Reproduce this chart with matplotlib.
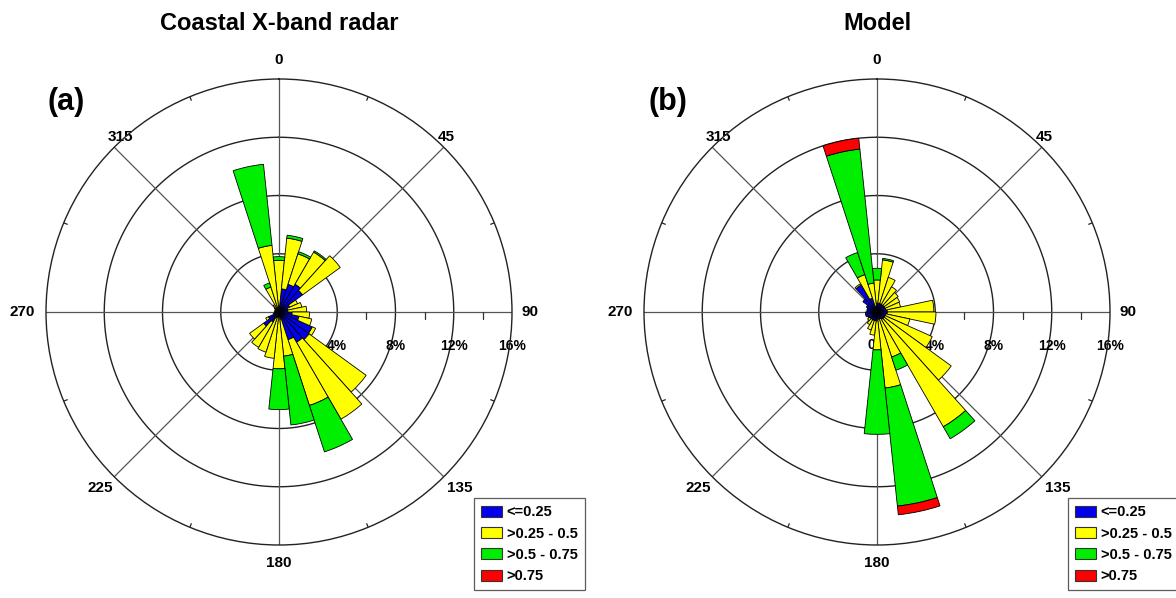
import numpy as np
import matplotlib
matplotlib.use("Agg")
import matplotlib.pyplot as plt
from matplotlib.patches import Patch

plt.rcParams["font.family"] = ["Liberation Sans", "DejaVu Sans"]
plt.rcParams["font.weight"] = "bold"

# Direction bins (degrees, clockwise from north), 12-degree sectors
directions = np.arange(0, 360, 12)

class_labels = ["<=0.25", ">0.25 - 0.5", ">0.5 - 0.75", ">0.75"]
class_colors = ["#0000ee", "#ffff00", "#00ee00", "#ff0000"]

# Coastal X-band radar: frequency (%) of each class per direction bin
radar_c1 = [0.4, 1.6, 2.0, 2.2, 2.0, 0.8, 0.6, 0.6, 0.9, 1.4, 2.5, 2.55, 2.4, 2.0, 0.5,
            0.3, 0.3, 0.4, 0.8, 1.3, 0.8, 0.3, 0.2, 0.2, 0.2, 0.2, 0.2, 0.2, 0.3, 0.3]
radar_c2 = [3.15, 3.5, 2.2, 2.55, 3.2, 0.6, 1.0, 1.3, 1.2, 0.9, 0.25, 4.85, 6.1, 4.75, 2.55,
            3.6, 2.9, 2.5, 2.0, 1.2, 0.2, 0.1, 0.1, 0.1, 0.1, 0.1, 0.2, 0.4, 1.5, 4.3]
radar_c3 = [0.25, 0.2, 0.15, 0.1, 0, 0, 0, 0, 0, 0, 0, 0, 0, 3.35, 4.75,
            2.8, 0, 0, 0, 0, 0, 0, 0, 0, 0, 0, 0, 0, 0.3, 5.6]
radar_c4 = [0] * 30

# Model: frequency (%) of each class per direction bin
model_c1 = [0.6, 0.6, 0.6, 0.6, 0.6, 0.6, 0.6, 0.7, 0.7, 0.6, 0.6, 0.6, 0.6, 0.5, 0.5,
            0.6, 0.6, 0.6, 0.6, 0.6, 0.7, 0.8, 0.8, 0.7, 0.7, 0.8, 1.2, 2.15, 1.0, 0.4]
model_c2 = [1.6, 3.0, 1.9, 1.4, 1.2, 1.1, 1.05, 3.2, 3.35, 1.7, 3.55, 5.7, 8.5, 2.75, 4.75,
            2.0, 1.0, 0.7, 0.4, 0.2, 0, 0, 0, 0, 0, 0, 0, 0.1, 1.7, 1.6]
model_c3 = [0.8, 0.1, 0, 0, 0, 0, 0, 0, 0, 0, 0, 0, 0.95, 0.95, 8.15,
            5.8, 0, 0, 0, 0, 0, 0, 0, 0, 0, 0, 0, 0, 1.6, 9.25]
model_c4 = [0, 0, 0, 0, 0, 0, 0, 0, 0, 0, 0, 0, 0, 0, 0.6,
            0, 0, 0, 0, 0, 0, 0, 0, 0, 0, 0, 0, 0, 0, 0.75]

ring_values = [4, 8, 12, 16]
ring_labels = ["4%", "8%", "12%", "16%"]
angle_ticks = [0, 45, 90, 135, 180, 225, 270, 315]
# pixel offsets of the compass labels from the outer ring
angle_offsets = {0: (0, 19), 45: (2, 10), 90: (18, 0), 135: (16, -11),
                 180: (0, -18), 225: (-14, -11), 270: (-24, 0), 315: (6, 10)}

W, H = 1176, 598
fig = plt.figure(figsize=(W / 100, H / 100), dpi=100)
fig.patch.set_facecolor("white")

R_PX = 233  # outer ring radius in pixels
CY = 312


def make_axes(cx):
    return fig.add_axes([(cx - R_PX) / W, (H - CY - R_PX) / H, 2 * R_PX / W, 2 * R_PX / H],
                        projection="polar")


def rose(ax, layers, zero_label):
    theta = np.deg2rad(directions)
    width = np.deg2rad(12)
    ax.set_theta_zero_location("N")
    ax.set_theta_direction(-1)
    ax.set_ylim(0, 16)
    ax.grid(False)
    ax.set_xticks([])
    ax.set_yticks([])
    ax.spines["polar"].set_color("#222222")
    ax.spines["polar"].set_linewidth(1.0)

    t = np.linspace(0, 2 * np.pi, 400)
    for r in ring_values[:-1]:
        ax.plot(t, np.full_like(t, r), color="#222222", lw=1.0, zorder=0.5)
    for a in angle_ticks:
        ax.plot([np.deg2rad(a)] * 2, [0, 16], color="#555555", lw=0.9, zorder=0.5)
    for a in np.arange(22.5, 360, 45):
        ax.plot([np.deg2rad(a)] * 2, [15.75, 16], color="#222222", lw=0.9, zorder=0.5)
    # minor ticks along the east spoke
    ax.plot([np.pi / 2] * 4, [2, 6, 10, 14], linestyle="none", marker=3,
            markersize=5, markeredgewidth=0.9, color="#333333", zorder=0.5)

    for a in angle_ticks:
        ax.annotate(str(a), xy=(np.deg2rad(a), 16), xytext=angle_offsets[a],
                    textcoords="offset pixels", ha="center", va="center",
                    fontsize=11, fontweight="bold", annotation_clip=False, zorder=0.6)
    if zero_label:
        ax.annotate("0", xy=(np.pi / 2, 0), xytext=(-6, -33), textcoords="offset pixels",
                    ha="center", va="center", fontsize=10, fontweight="bold",
                    annotation_clip=False, zorder=0.6)
    for r, lab in zip(ring_values, ring_labels):
        ax.annotate(lab, xy=(np.pi / 2, r), xytext=(0, -34), textcoords="offset pixels",
                    ha="center", va="center", fontsize=10, fontweight="bold",
                    annotation_clip=False, zorder=0.6)

    bottom = np.zeros(len(directions))
    for vals, col in zip(layers, class_colors):
        vals = np.asarray(vals, dtype=float)
        m = vals > 0
        ax.bar(theta[m], vals[m], width=width, bottom=bottom[m], color=col,
               edgecolor="black", linewidth=0.6, zorder=2)
        bottom = bottom + vals


ax1 = make_axes(279)
rose(ax1, [radar_c1, radar_c2, radar_c3, radar_c4], zero_label=True)
ax2 = make_axes(877)
rose(ax2, [model_c1, model_c2, model_c3, model_c4], zero_label=True)

fig.text(279 / W, 1 - 23 / H, "Coastal X-band radar", ha="center", va="center",
         fontsize=17, fontweight="bold")
fig.text(877 / W, 1 - 23 / H, "Model", ha="center", va="center",
         fontsize=17, fontweight="bold")
fig.text(66 / W, 1 - 102 / H, "(a)", ha="center", va="center", fontsize=22, fontweight="bold")
fig.text(668 / W, 1 - 102 / H, "(b)", ha="center", va="center", fontsize=22, fontweight="bold")

handles = [Patch(facecolor=c, edgecolor="#333333", linewidth=0.8) for c in class_colors]
for x0 in (474, 1068):
    leg = fig.legend(handles, class_labels, loc="upper left",
                     bbox_to_anchor=(x0 / W, 1 - 498 / H), fontsize=10.5,
                     frameon=True, fancybox=False, edgecolor="#333333",
                     handlelength=1.4, handleheight=0.8, handletextpad=0.35,
                     labelspacing=0.5, borderpad=0.5, borderaxespad=0)
    leg.get_frame().set_linewidth(0.9)
    for txt in leg.get_texts():
        txt.set_fontweight("bold")

fig.savefig("out.png", dpi=100, facecolor="white")
